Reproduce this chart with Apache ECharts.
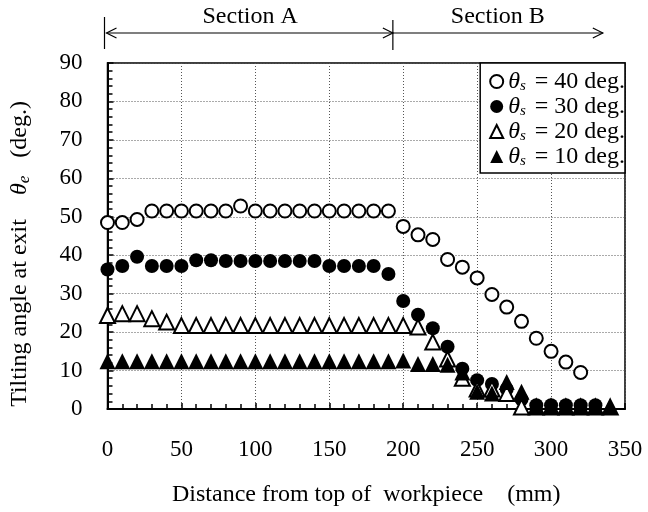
<!DOCTYPE html>
<html><head><meta charset="utf-8">
<script src="https://cdn.jsdelivr.net/npm/echarts@6/dist/echarts.min.js"></script>
<style>html,body{margin:0;padding:0;background:#fff}#c{width:648px;height:512px}</style>
</head><body><div id="c"></div>
<script>
// distances (mm)
const xs = [0,10,20,30,40,50,60,70,80,90,100,110,120,130,140,150,160,170,180,190,200,210,220,230,240,250,260,270,280,290,300,310,320,330,340];
// theta_s = 40 deg (open circles)
const s40 = [48.5,48.5,49.3,51.5,51.5,51.5,51.5,51.5,51.5,52.8,51.5,51.5,51.5,51.5,51.5,51.5,51.5,51.5,51.5,51.5,47.5,45.3,44.1,38.9,36.9,34.1,29.8,26.5,22.8,18.4,15.0,12.2,9.5,null,null];
// theta_s = 30 deg (filled circles)
const s30 = [36.3,37.2,39.6,37.2,37.2,37.2,38.7,38.7,38.5,38.5,38.5,38.5,38.5,38.5,38.5,37.2,37.2,37.2,37.2,35.1,28.1,24.5,21.0,16.2,10.5,7.5,6.5,5.2,2.5,1.0,1.0,1.0,1.0,1.0,null];
// theta_s = 20 deg (open triangles)
const s20 = [24.3,24.8,24.8,23.5,22.6,21.7,21.7,21.7,21.7,21.7,21.7,21.7,21.7,21.7,21.7,21.7,21.7,21.7,21.7,21.7,21.7,21.3,17.4,13.0,8.0,5.2,5.2,4.0,0.5,0.5,0.5,0.5,0.5,0.5,0.5];
// theta_s = 10 deg (filled triangles)
const s10 = [12.4,12.4,12.4,12.4,12.4,12.4,12.4,12.4,12.4,12.4,12.4,12.4,12.4,12.4,12.4,12.4,12.4,12.4,12.4,12.4,12.6,11.7,11.7,11.5,9.5,4.5,4.0,7.0,4.5,0.5,0.5,0.5,0.5,0.5,0.5];
const seriesNames = ['40','30','20','10'];
const xTicks = [0,50,100,150,200,250,300,350];
const yTicks = [0,10,20,30,40,50,60,70,80,90];
const sectionBounds = [0,193,335];

const FONT = 'Liberation Serif';
function pts(arr){ const o=[]; xs.forEach((x,i)=>{ if(arr[i]!=null) o.push([x,arr[i]]); }); return o; }

const chart = echarts.init(document.getElementById('c'), null, {renderer:'canvas'});
const styles = [
  {symbol:'circle', size:13, item:{color:'#fff', borderColor:'#000', borderWidth:2, opacity:1}},
  {symbol:'circle', size:14, item:{color:'#000', borderColor:'#000', borderWidth:0, opacity:1}},
  {symbol:'triangle', size:15, item:{color:'#fff', borderColor:'#000', borderWidth:2, opacity:1}},
  {symbol:'triangle', size:16, item:{color:'#000', borderColor:'#000', borderWidth:0, opacity:1}}
];
const data = [s40,s30,s20,s10];
const axisCommon = {
  axisLine:{show:true, onZero:false, lineStyle:{color:'#000', width:2}},
  axisTick:{show:true, inside:true, length:6, lineStyle:{color:'#000', width:1.5}},
  minorTick:{show:true, length:5, lineStyle:{color:'#000', width:1.5}},
  splitLine:{show:true, lineStyle:{color:'#555', type:[1,2], width:1}},
  axisLabel:{color:'#000', fontFamily:FONT, fontSize:23}
};
chart.setOption({
  animation:false,
  backgroundColor:'#fff',
  grid:{left:107, right:23, top:63, bottom:101, show:true, borderColor:'#000', borderWidth:1.5, backgroundColor:'transparent'},
  xAxis:Object.assign({}, axisCommon, {
    type:'value', min:0, max:350, interval:50,
    minorTick:Object.assign({}, axisCommon.minorTick, {splitNumber:5}),
    axisLabel:Object.assign({}, axisCommon.axisLabel, {margin:29, formatter:v=>xTicks.includes(v)?String(v):''}),
    name:'Distance from top of  workpiece    (mm)', nameLocation:'middle', nameGap:74,
    nameTextStyle:{color:'#000', fontFamily:FONT, fontSize:24}
  }),
  yAxis:Object.assign({}, axisCommon, {
    type:'value', min:0, max:90, interval:10,
    minorTick:Object.assign({}, axisCommon.minorTick, {splitNumber:5}),
    axisLabel:Object.assign({}, axisCommon.axisLabel, {margin:25, formatter:v=>yTicks.includes(v)?String(v):''}),
    name:'{n|Tilting angle at exit    }{t|θ}{e|e}{n|   (deg.)}{p|}', nameLocation:'middle', nameGap:74,
    nameTextStyle:{color:'#000', fontFamily:FONT, fontSize:24,
      rich:{n:{fontFamily:FONT, fontSize:24, color:'#000'}, t:{fontFamily:FONT, fontStyle:'italic', fontSize:24, color:'#000'}, e:{fontFamily:FONT, fontStyle:'italic', fontSize:17, color:'#000', padding:[10,0,0,0]}, p:{width:36}}}
  }),
  legend:{
    orient:'vertical', right:23, top:63, backgroundColor:'#fff', borderColor:'#000', borderWidth:1.5,
    padding:[6,0,4,9], itemGap:0, itemWidth:13, itemHeight:13,
    data:seriesNames,
    formatter:n=>'{t|θ}{s|s} = '+n+' deg.',
    textStyle:{color:'#000', fontFamily:FONT, fontSize:24, lineHeight:25,
      rich:{t:{fontFamily:FONT, fontStyle:'italic', fontSize:24, color:'#000'}, s:{fontFamily:FONT, fontStyle:'italic', fontSize:15, color:'#000', padding:[9,3,0,0]}}}
  },
  series:data.map((d,i)=>({
    name:seriesNames[i], type:'scatter', symbol:styles[i].symbol, symbolSize:styles[i].size,
    itemStyle:styles[i].item, data:pts(d), z:2+i
  }))
});

// Section annotations, positioned from data coordinates
const px = sectionBounds.map(v=>chart.convertToPixel({xAxisIndex:0}, v));
const ay = 33;
function arrowHead(x, dir){ return {type:'polyline', shape:{points:[[x+dir*10,ay-5],[x,ay],[x+dir*10,ay+5]]}, style:{stroke:'#000', lineWidth:1.2, fill:null}}; }
chart.setOption({graphic:[
  {type:'line', shape:{x1:px[0]-3, y1:17, x2:px[0]-3, y2:49}, style:{stroke:'#000', lineWidth:1.2}},
  {type:'line', shape:{x1:px[1], y1:20, x2:px[1], y2:50}, style:{stroke:'#000', lineWidth:1.2}},
  {type:'line', shape:{x1:px[0]-1, y1:ay, x2:px[2], y2:ay}, style:{stroke:'#000', lineWidth:1.2}},
  arrowHead(px[0]-1, 1), arrowHead(px[1], -1), arrowHead(px[2], -1),
  {type:'text', x:(px[0]+px[1])/2, y:17, style:{text:'Section A', font:'24px "Liberation Serif"', fill:'#000', align:'center', verticalAlign:'middle'}},
  {type:'text', x:(px[1]+px[2])/2, y:17, style:{text:'Section B', font:'24px "Liberation Serif"', fill:'#000', align:'center', verticalAlign:'middle'}}
]});
</script></body></html>
